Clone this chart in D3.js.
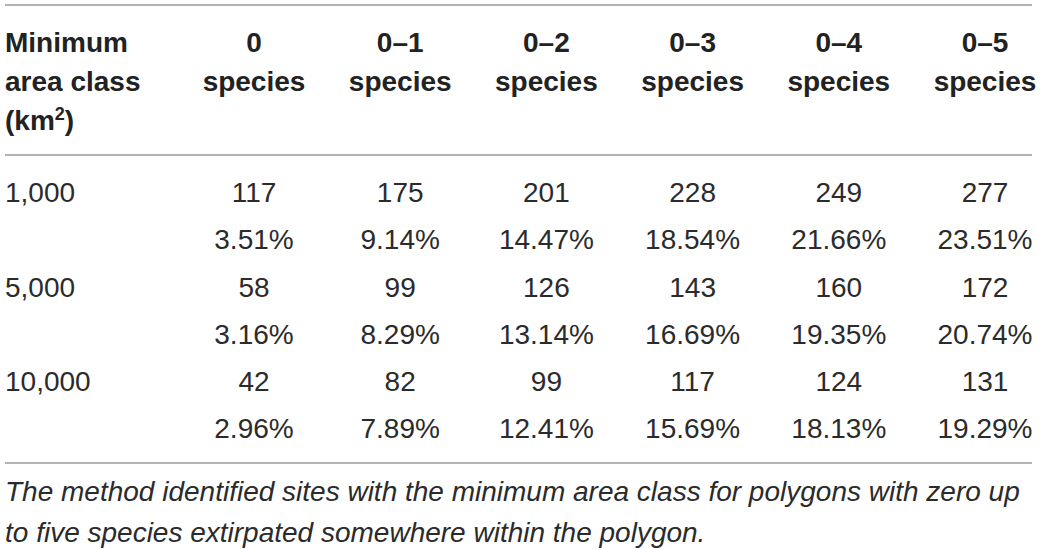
<!DOCTYPE html>
<html>
<head>
<meta charset="utf-8">
<script src="https://cdn.jsdelivr.net/npm/d3@7"></script>
<style>
  body { margin: 0; background: #fff; }
  svg text { font-family: "Liberation Sans", Arial, sans-serif; font-size: 28px; fill: #2b2b2b; }
  .hd { font-weight: bold; fill: #222; }
  .note { font-style: italic; }
</style>
</head>
<body>
<div id="table"></div>
<script>
// table contents
const areaClasses = ['1,000', '5,000', '10,000'];
const speciesCols = ['0', '0–1', '0–2', '0–3', '0–4', '0–5'];
const counts = [
  [117, 175, 201, 228, 249, 277],
  [58, 99, 126, 143, 160, 172],
  [42, 82, 99, 117, 124, 131]
];
const percents = [
  [3.51, 9.14, 14.47, 18.54, 21.66, 23.51],
  [3.16, 8.29, 13.14, 16.69, 19.35, 20.74],
  [2.96, 7.89, 12.41, 15.69, 18.13, 19.29]
];
const noteLines = [
  'The method identified sites with the minimum area class for polygons with zero up',
  'to five species extirpated somewhere within the polygon.'
];

const width = 1045, height = 549;
const svg = d3.select('#table').append('svg')
  .attr('width', width).attr('height', height);

const x = d3.scalePoint().domain(speciesCols).range([254, 985]);
const y = d3.scalePoint().domain(areaClasses).range([202, 391]);
const pctGap = 47;
const left = 5, right = 1032;

// rules
svg.append('g').selectAll('line')
  .data([5, 155, 463]).enter().append('line')
  .attr('x1', left).attr('x2', right)
  .attr('y1', d => d).attr('y2', d => d)
  .attr('stroke', '#9a9a9a').attr('stroke-width', 1.5);

// header
const hd = svg.append('g');
hd.append('text').attr('class', 'hd').attr('x', left).attr('y', 52).text('Minimum');
hd.append('text').attr('class', 'hd').attr('x', left).attr('y', 91).text('area class');
const km = hd.append('text').attr('class', 'hd').attr('x', left).attr('y', 130);
km.append('tspan').text('(km');
km.append('tspan').attr('dy', -10).style('font-size', '18px').text('2');
km.append('tspan').attr('dy', 10).text(')');

hd.selectAll('.c1').data(speciesCols).enter().append('text')
  .attr('class', 'hd').attr('text-anchor', 'middle')
  .attr('x', d => x(d)).attr('y', 52).text(d => d);
hd.selectAll('.c2').data(speciesCols).enter().append('text')
  .attr('class', 'hd').attr('text-anchor', 'middle')
  .attr('x', d => x(d)).attr('y', 91).text('species');

// body
const rows = svg.append('g').selectAll('g')
  .data(areaClasses).enter().append('g');
rows.append('text').attr('x', left).attr('y', d => y(d)).text(d => d);
rows.each(function(a, i) {
  const g = d3.select(this);
  g.selectAll('.n').data(counts[i]).enter().append('text')
    .attr('text-anchor', 'middle')
    .attr('x', (d, j) => x(speciesCols[j])).attr('y', y(a))
    .text(d => d);
  g.selectAll('.p').data(percents[i]).enter().append('text')
    .attr('text-anchor', 'middle')
    .attr('x', (d, j) => x(speciesCols[j])).attr('y', y(a) + pctGap)
    .text(d => d.toFixed(2) + '%');
});

// footnote
svg.append('g').selectAll('text')
  .data(noteLines).enter().append('text')
  .attr('class', 'note').attr('x', left)
  .attr('y', (d, i) => 501 + i * 41)
  .text(d => d);
</script>
</body>
</html>
